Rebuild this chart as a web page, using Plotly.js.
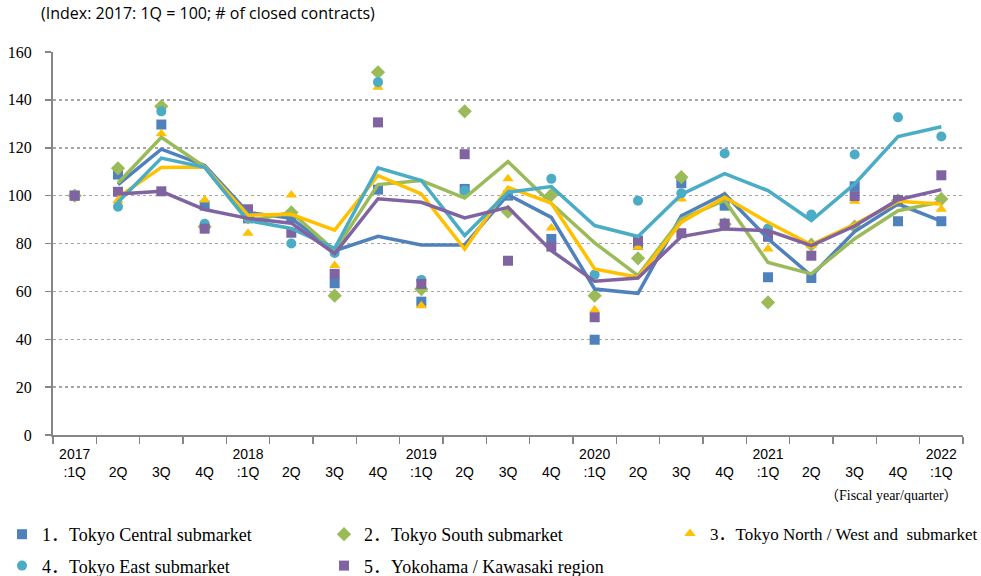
<!DOCTYPE html>
<html>
<head>
<meta charset="utf-8">
<script src="https://cdn.plot.ly/plotly-3.0.1.min.js"></script>
<style>html,body{margin:0;padding:0;background:#fff;}#chart{width:981px;height:576px;}</style>
</head>
<body>
<div id="chart"></div>
<script>
// Categories (fiscal year / quarter)
const categories = ["2017:1Q","2017:2Q","2017:3Q","2017:4Q","2018:1Q","2018:2Q","2018:3Q","2018:4Q",
  "2019:1Q","2019:2Q","2019:3Q","2019:4Q","2020:1Q","2020:2Q","2020:3Q","2020:4Q",
  "2021:1Q","2021:2Q","2021:3Q","2021:4Q","2022:1Q"];
const tickLabels = ["2017<br>:1Q"," <br>2Q"," <br>3Q"," <br>4Q","2018<br>:1Q"," <br>2Q"," <br>3Q"," <br>4Q",
  "2019<br>:1Q"," <br>2Q"," <br>3Q"," <br>4Q","2020<br>:1Q"," <br>2Q"," <br>3Q"," <br>4Q",
  "2021<br>:1Q"," <br>2Q"," <br>3Q"," <br>4Q","2022<br>:1Q"];

const seriesNames = ["1．Tokyo Central submarket","2．Tokyo South submarket",
  "3．Tokyo North / West and  submarket","4．Tokyo East submarket","5．Yokohama / Kawasaki region"];

// Quarterly index values (markers)
const centralPts  = [100,108.8,129.7,95.8,90.5,90.6,63.4,102.5,55.7,102.8,100,81.9,39.8,79.4,105.2,95.8,65.9,65.6,103.9,89.3,89.3];
const southPts    = [100,111.4,137.3,87,91,93,58.2,151.5,61,135.2,93.3,100.3,58.2,73.8,107.7,88,55.4,79.5,87,98,98.6];
const northPts    = [100,98,125.8,98.2,84.3,100.3,70.8,145.3,54,101,107,86.5,52.2,78.4,98.6,100,77.7,79.1,97.6,97.9,94.3];
const eastPts     = [100,95.4,135.2,88.2,90.5,80,76,147.4,64.8,102.1,100.7,107,67,97.9,101,117.6,86.3,92.1,117.2,132.7,124.7];
const yokohamaPts = [100,101.6,101.8,86.2,94.3,84.5,67.3,130.6,63.1,117.3,72.8,78.7,49.2,81.2,84.3,88.3,82.8,74.9,99.8,98.2,108.5];

// Trend lines (start at 2017:2Q)
const centralLine  = [null,104.6,119.4,112.6,93,90.5,77,83,79.4,79.4,100.4,90.9,61,59.2,91.6,100.7,82,66.5,85,96.5,89.3];
const southLine    = [null,105.3,124.4,112,89.3,93,77,104.6,106.3,99,114.2,96.7,80.3,66.6,90.3,98,72.1,67.3,82,93.7,97.4];
const northLine    = [null,99.3,111.8,112,91.8,92.2,85.6,108.4,100.7,77.7,103.5,96.9,69.4,65.9,88.9,99.3,88.9,79.5,88,97.6,96.5];
const eastLine     = [null,97.2,115.7,111.8,89.6,86.3,78,111.6,106.3,83.3,101.4,103.8,87.5,82.9,100.5,109.2,102.1,89.6,104.9,124.7,128.8];
const yokohamaLine = [null,100.7,101.8,94.2,90.5,88.5,75.8,98.7,97.2,90.7,95.1,77,64.2,65.6,82.9,86.1,85.4,79.1,87.3,98.3,102.5];

const colors = ["#4f81bd","#9bbb59","#ffc000","#4bacc6","#8064a2"];
const symbols = ["square","diamond","triangle-up","circle","square"];
const pts = [centralPts,southPts,northPts,eastPts,yokohamaPts];
const lines = [centralLine,southLine,northLine,eastLine,yokohamaLine];
const legendIds = ["legend","legend2","legend3","legend","legend2"];

const traces = [];
for (let i = 0; i < 5; i++) {
  traces.push({
    type: "scatter", mode: "markers", x: categories, y: pts[i], name: seriesNames[i],
    marker: {symbol: symbols[i], color: colors[i], size: i === 1 ? 11 : 10},
    legend: legendIds[i], legendgroup: "g" + i, showlegend: true, hoverinfo: "x+y"
  });
}
for (let i = 0; i < 5; i++) {
  traces.push({
    type: "scatter", mode: "lines", x: categories, y: lines[i], name: seriesNames[i] + " trend",
    line: {color: colors[i], width: 3.5}, showlegend: false, connectgaps: false
  });
}

const serif = "Liberation Serif, Times New Roman, serif";
const legendFont = {family: serif + ", Noto Sans CJK JP", size: 18, color: "#000"};
const legendCommon = {orientation: "v", xref: "container", yref: "container", yanchor: "top", xanchor: "left",
  font: legendFont, tracegroupgap: 5, itemwidth: 30, bgcolor: "rgba(0,0,0,0)", borderwidth: 0};

const layout = {
  width: 981, height: 576,
  margin: {l: 53, r: 18, t: 52, b: 141, autoexpand: false},
  paper_bgcolor: "#fff", plot_bgcolor: "#fff",
  title: {text: "(Index: 2017: 1Q = 100; # of closed contracts)", font: {family: "Open Sans, sans-serif", size: 16, color: "#000"},
    x: 41/981, xanchor: "left", xref: "container", y: 1 - 13/576, yanchor: "middle", yref: "container"},
  xaxis: {
    type: "category", categoryorder: "array", categoryarray: categories,
    tickmode: "array", tickvals: categories, ticktext: tickLabels,
    tickson: "boundaries", ticks: "outside", ticklen: 7, tickwidth: 1.5, tickcolor: "#868686",
    showline: true, linecolor: "#868686", linewidth: 2, showgrid: false, zeroline: false,
    tickfont: {family: "Liberation Sans, Arial, sans-serif", size: 14, color: "#000"}, tickangle: 0,
    range: [-0.5, 20.5], ticklabelstandoff: 5
  },
  yaxis: {
    range: [0, 160], dtick: 20, tick0: 0, ticks: "outside", ticklen: 6, tickwidth: 1.5, tickcolor: "#868686",
    showline: true, linecolor: "#868686", linewidth: 2, zeroline: false,
    showgrid: true, gridcolor: "#a6a6a6", gridwidth: 1.5, griddash: "dot",
    tickfont: {family: serif, size: 16, color: "#000"}, ticklabelstandoff: 10
  },
  legend: Object.assign({}, legendCommon, {x: 2/981, y: 1 - 516/576}),
  legend2: Object.assign({}, legendCommon, {x: 324/981, y: 1 - 516/576}),
  legend3: Object.assign({}, legendCommon, {x: 670/981, y: 1 - 516/576, font: Object.assign({}, legendFont, {size: 17})}),
  annotations: [{
    text: "（Fiscal year/quarter）", xref: "paper", yref: "paper", x: (960 - 53) / 910, y: -0.159,
    xanchor: "right", yanchor: "middle", showarrow: false, font: {family: serif + ", Noto Sans CJK JP", size: 14, color: "#000"}
  }],
  showlegend: true
};

Plotly.newPlot("chart", traces, layout, {displayModeBar: false, staticPlot: true});
</script>
</body>
</html>
